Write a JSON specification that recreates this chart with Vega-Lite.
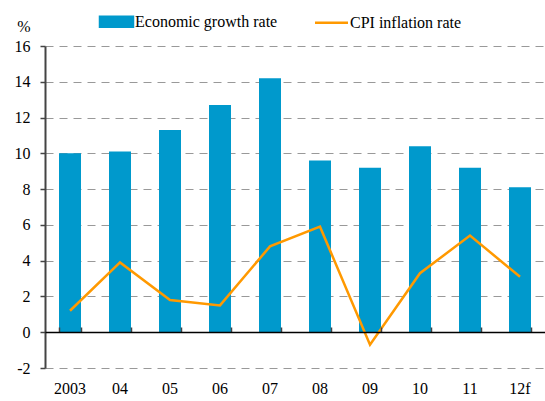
{
  "$schema": "https://vega.github.io/schema/vega-lite/v6.json",
  "width": 500,
  "height": 322,
  "autosize": {"type": "none"},
  "padding": {"left": 45, "top": 46, "right": 0, "bottom": 33},
  "background": "white",
  "config": {
    "view": {"stroke": null},
    "font": "Liberation Serif",
    "axis": {"labelFont": "Liberation Serif", "labelFontSize": 16, "labelColor": "#000", "titleFont": "Liberation Serif"},
    "legend": {"labelFont": "Liberation Serif", "labelFontSize": 16, "labelColor": "#000"}
  },
  "data": {
    "values": [
      {"year": "2003", "growth": 10.0, "cpi": 1.2},
      {"year": "04", "growth": 10.1, "cpi": 3.9},
      {"year": "05", "growth": 11.3, "cpi": 1.8},
      {"year": "06", "growth": 12.7, "cpi": 1.5},
      {"year": "07", "growth": 14.2, "cpi": 4.8},
      {"year": "08", "growth": 9.6, "cpi": 5.9},
      {"year": "09", "growth": 9.2, "cpi": -0.7},
      {"year": "10", "growth": 10.4, "cpi": 3.3},
      {"year": "11", "growth": 9.2, "cpi": 5.4},
      {"year": "12f", "growth": 8.1, "cpi": 3.1}
    ]
  },
  "layer": [
    {
      "mark": {"type": "bar", "color": "#0099CC"},
      "encoding": {
        "x": {
          "field": "year", "type": "ordinal", "sort": null,
          "scale": {"paddingInner": 0.56, "paddingOuter": 0.28},
          "axis": {"title": null, "labelAngle": 0, "labelFont": "Liberation Serif", "labelFontSize": 16, "domain": false, "ticks": false, "labelPadding": 12, "grid": false}
        },
        "y": {
          "field": "growth", "type": "quantitative",
          "scale": {"domain": [-2, 16], "nice": false},
          "axis": {
            "values": [-2, 0, 2, 4, 6, 8, 10, 12, 14, 16],
            "tickCount": 10,
            "labelExpr": "'' + datum.value",
            "labelOverlap": false,
            "labelFont": "Liberation Serif", "labelFontSize": 16,
            "title": "%", "titleFont": "Liberation Serif", "titleAngle": 0, "titleFontSize": 16, "titleFontWeight": "normal", "titleColor": "#000",
            "titleAnchor": "end", "titleAlign": "right", "titleX": -15, "titleY": -12,
            "domainColor": "#444", "domainWidth": 2, "tickColor": "#444", "tickSize": 5, "tickWidth": 1.5,
            "labelPadding": 10,
            "grid": true, "gridColor": "#999", "gridDash": [8, 6], "gridWidth": 1
          }
        },
        "color": {
          "datum": "Economic growth rate",
          "type": "nominal",
          "scale": {"domain": ["Economic growth rate", "CPI inflation rate"], "range": ["#0099CC", "#FF9900"]},
          "legend": {
            "title": null, "orient": "none", "direction": "horizontal",
            "legendX": 60, "legendY": -36,
            "labelFont": "Liberation Serif", "labelFontSize": 16,
            "symbolSize": 400, "labelOffset": 7, "columnPadding": 32,
            "encode": {
              "symbols": {
                "update": {
                  "shape": {"signal": "datum.value === 'CPI inflation rate' ? 'M-1.65,0H1.65' : 'M-1.65,-0.5H1.65V0.5H-1.65Z'"},
                  "fill": {"signal": "datum.value === 'CPI inflation rate' ? 'transparent' : '#0099CC'"},
                  "stroke": {"signal": "datum.value === 'CPI inflation rate' ? '#FF9900' : 'transparent'"},
                  "strokeWidth": {"value": 2.5},
                  "opacity": {"value": 1}
                }
              }
            }
          }
        }
      }
    },
    {
      "mark": {"type": "line", "color": "#FF9900", "strokeWidth": 2.5},
      "encoding": {
        "x": {
          "field": "year", "type": "ordinal", "sort": null,
          "axis": {"orient": "bottom", "offset": -36, "title": null, "labels": false, "domain": true, "domainColor": "#000", "domainWidth": 1.5, "ticks": true, "tickBand": "extent", "tickSize": -5, "tickColor": "#444", "tickWidth": 1.5, "grid": false, "zindex": 1}
        },
        "y": {
          "field": "cpi", "type": "quantitative",
          "axis": {
            "values": [-2, 0, 2, 4, 6, 8, 10, 12, 14, 16],
            "tickCount": 10,
            "labelOverlap": false
          }
        },
        "color": {"datum": "CPI inflation rate", "type": "nominal"}
      }
    }
  ],
  "resolve": {"axis": {"x": "independent"}}
}
